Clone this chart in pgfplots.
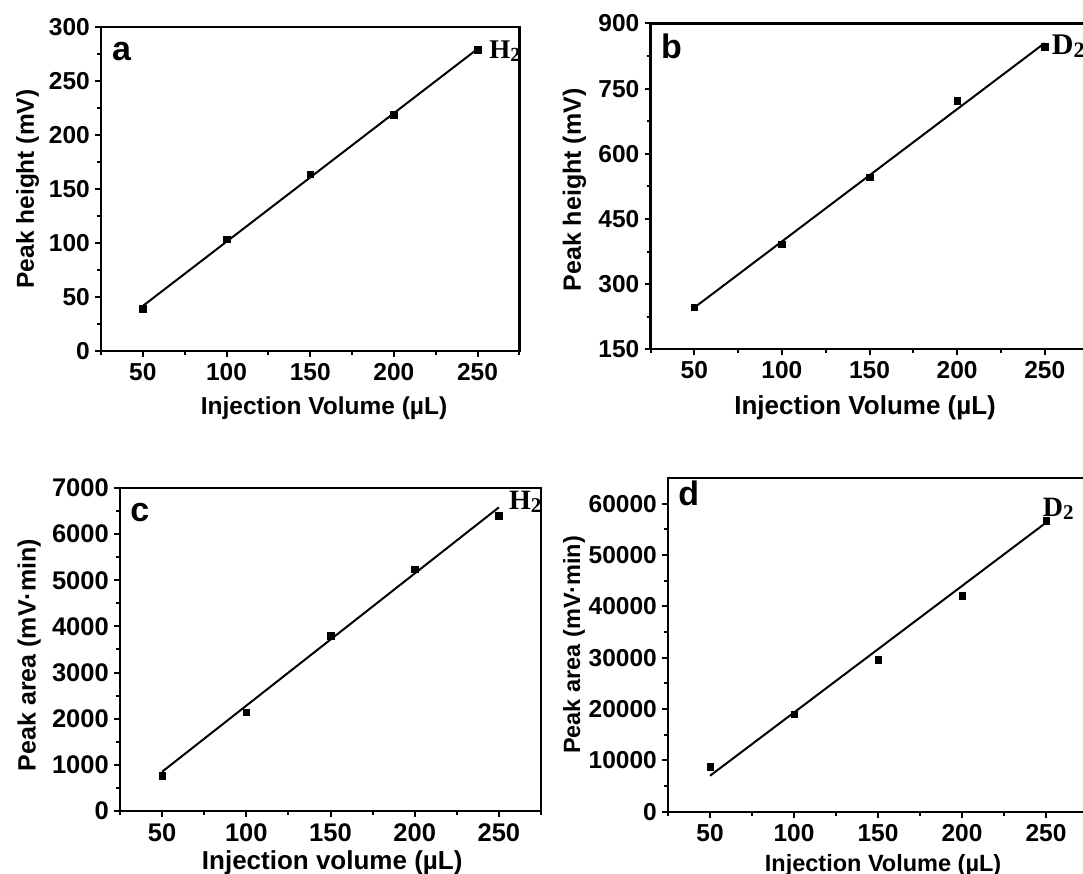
\documentclass[border=0pt]{standalone}
\usepackage{pgfplots}
\pgfplotsset{compat=1.18}
\usepackage{fontspec}
\setmainfont{Liberation Sans}
\newfontfamily\timesfont{Liberation Serif}
\newcommand{\fs}[1]{\fontsize{#1}{#1}\selectfont\bfseries}
\pgfplotsset{
  panel/.style={
    scale only axis, anchor=south west, clip=false,
    axis line style={line width=2.2pt},
    every tick/.style={line width=2pt, black},
    tick align=outside, xtick pos=bottom, ytick pos=left,
    major tick length=6pt, minor tick length=4pt,
    xmin=25, xmax=275, xtick={50,100,150,200,250},
    minor xtick={25,75,125,175,225,275},
    minor y tick num=1,
    scaled y ticks=false,
    /pgf/number format/assume math mode=true,
    /pgf/number format/1000 sep={},
    xticklabel style={anchor=north, inner sep=0pt},
    yticklabel style={anchor=east, inner sep=0pt},
    xticklabel shift=6pt, yticklabel shift=5pt,
    ylabel style={anchor=center},
    xlabel style={anchor=center},
  },
  pts/.style={only marks, mark=square*, mark size=3.3pt, mark options={line width=0.4pt, black, fill=black}},
  fit/.style={no marks, black, line width=2pt},
}
\begin{document}
\begin{tikzpicture}
\path[use as bounding box] (0pt,0pt) rectangle (1083pt,874pt);
\clip (0pt,0pt) rectangle (1083pt,874pt);
% ---- panel a
\begin{axis}[panel, at={(101pt,523pt)}, width=418.4pt, height=324pt,
  ymin=0, ymax=300, ytick={0,50,...,300},
  tick label style={font=\fs{24.5}},
  ylabel={Peak height (mV)}, ylabel style={at={(axis description cs:-0.1754,0.5)}, font=\fs{24.5}},
  xlabel={Injection Volume (µL)}, xlabel style={at={(axis description cs:0.533,-0.177)}, font=\fs{24.5}},
]
\addplot[fit] coordinates {(50,41.7) (250,279.7)};
\addplot[pts] coordinates {(50,38.9) (100,103.4) (150,163.6) (200,219) (250,278.7)};
\node[anchor=base west, inner sep=0pt, font=\fs{34}] at (axis description cs:0.026,0.898) {a};
\node[anchor=base west, inner sep=0pt, font=\timesfont\fs{27}] at (axis cs:257,270.4) {H\raisebox{-2.5pt}{\fontsize{20}{21}\selectfont 2}};
\end{axis}
% ---- panel b
\begin{axis}[panel, at={(650.5pt,524.7pt)}, width=438pt, height=325.8pt,
  ymin=150, ymax=900, ytick={150,300,...,900},
  tick label style={font=\fs{24.5}},
  ylabel={Peak height (mV)}, ylabel style={at={(axis description cs:-0.1735,0.489)}, font=\fs{25}},
  xlabel={Injection Volume (µL)}, xlabel style={at={(axis description cs:0.49,-0.18)}, font=\fs{26}},
]
\addplot[fit] coordinates {(50,246) (250,855)};
\addplot[pts] coordinates {(50,246.7) (100,392) (150,546) (200,722) (250,846.6)};
\node[anchor=base west, inner sep=0pt, font=\fs{34}] at (axis description cs:0.024,0.894) {b};
\node[anchor=base west, inner sep=0pt, font=\timesfont\fs{30}] at (axis cs:254,827.5) {D\raisebox{-3pt}{\fontsize{22}{23}\selectfont 2}};
\end{axis}
% ---- panel c
\begin{axis}[panel, at={(120pt,63pt)}, width=421pt, height=323pt,
  ymin=0, ymax=7000, ytick={0,1000,...,7000},
  tick label style={font=\fs{25.5}},
  ylabel={Peak area (mV·min)}, ylabel style={at={(axis description cs:-0.216,0.483)}, font=\fs{25}},
  xlabel={Injection volume (µL)}, xlabel style={at={(axis description cs:0.504,-0.159)}, font=\fs{26}},
]
\addplot[fit] coordinates {(50,850) (250,6580)};
\addplot[pts] coordinates {(50,765) (100,2139) (150,3800) (200,5238) (250,6400)};
\node[anchor=base west, inner sep=0pt, font=\fs{34}] at (axis description cs:0.024,0.895) {c};
\node[anchor=base west, inner sep=0pt, font=\timesfont\fs{28}] at (axis cs:256,6524) {H\raisebox{-3pt}{\fontsize{21}{22}\selectfont 2}};
\end{axis}
% ---- panel d
\begin{axis}[panel, at={(668pt,62.3pt)}, width=420pt, height=333.7pt,
  ymin=0, ymax=65000, ytick={0,10000,...,60000},
  tick label style={font=\fs{24.5}},
  ylabel={Peak area (mV·min)}, ylabel style={at={(axis description cs:-0.224,0.5)}, font=\fs{23.5}},
  xlabel={Injection Volume (µL)}, xlabel style={at={(axis description cs:0.512,-0.16)}, font=\fs{23.5}},
]
\addplot[fit] coordinates {(50,7000) (250,56300)};
\addplot[pts] coordinates {(50,8776) (100,18990) (150,29580) (200,42060) (250,56690)};
\node[anchor=base west, inner sep=0pt, font=\fs{34}] at (axis description cs:0.024,0.919) {d};
\node[anchor=base west, inner sep=0pt, font=\timesfont\fs{28}] at (axis cs:248,57500) {D\raisebox{-3pt}{\fontsize{21}{22}\selectfont 2}};
\end{axis}
\end{tikzpicture}
\end{document}
